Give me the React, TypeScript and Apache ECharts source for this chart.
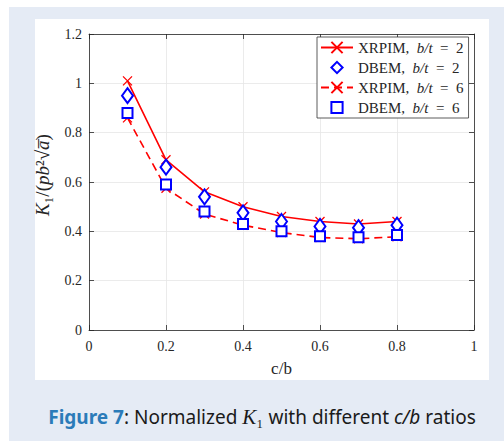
import React, { useEffect, useRef } from 'react';
import * as echarts from 'echarts';

const xValues = [0.1, 0.2, 0.3, 0.4, 0.5, 0.6, 0.7, 0.8];
const xrpim2 = [1.01, 0.69, 0.56, 0.5, 0.46, 0.44, 0.43, 0.44];
const dbem2 = [0.95, 0.66, 0.54, 0.475, 0.44, 0.42, 0.415, 0.425];
const xrpim6 = [0.86, 0.575, 0.47, 0.425, 0.395, 0.375, 0.37, 0.378];
const dbem6 = [0.88, 0.59, 0.48, 0.43, 0.4, 0.38, 0.376, 0.385];
const seriesNames = ['XRPIM, b/t = 2', 'DBEM, b/t = 2', 'XRPIM, b/t = 6', 'DBEM, b/t = 6'];
const legendRich = [
  '{n|XRPIM,  }{i|b/t}{n|  =  2}',
  '{n|DBEM,  }{i|b/t}{n|  =  2}',
  '{n|XRPIM,  }{i|b/t}{n|  =  6}',
  '{n|DBEM,  }{i|b/t}{n|  =  6}',
];

const SERIF = 'Liberation Serif';
const SANS = 'Noto Sans';
const AXIS = '#262626';
const RED = '#ff0000';
const BLUE = '#0000ff';
const CROSS = 'path://M0,0L10,10M10,0L0,10';

const pairs = (ys: number[]) => xValues.map((x, i) => [x, ys[i]]);

export default function App() {
  const ref = useRef<HTMLDivElement>(null);
  useEffect(() => {
    if (!ref.current) return;
    const chart = echarts.init(ref.current, undefined, { renderer: 'svg' });
    const axisCommon = {
      min: 0,
      axisLine: { show: true, onZero: false, lineStyle: { color: AXIS, width: 0.8 } },
      axisTick: { show: true, inside: true, length: 5, lineStyle: { color: AXIS, width: 0.8 } },
    };
    chart.setOption({
      animation: false,
      title: {
        left: 262,
        top: 406,
        padding: 0,
        textAlign: 'center',
        text: '{b|Figure 7}{n|: Normalized }{k|K}{ks|\u2081}{n| with different }{it|c/b}{n| ratios}',
        textStyle: {
          fontFamily: SANS,
          fontSize: 19,
          fontWeight: 'normal',
          color: '#1a1a1a',
          rich: {
            b: { fontFamily: SANS, fontSize: 19, fontWeight: 'bold', color: '#2b7bb9' },
            n: { fontFamily: SANS, fontSize: 19, color: '#1a1a1a' },
            it: { fontFamily: SANS, fontSize: 19, fontStyle: 'italic', color: '#1a1a1a' },
            k: { fontFamily: SERIF, fontSize: 21, fontStyle: 'italic', color: '#1a1a1a' },
            ks: { fontFamily: SERIF, fontSize: 21, color: '#1a1a1a' },
          },
        },
      },
      grid: { left: 89, right: 30, top: 34, height: 296 },
      xAxis: [
        {
          ...axisCommon,
          type: 'value',
          max: 1,
          interval: 0.2,
          position: 'bottom',
          axisLabel: { color: AXIS, fontFamily: SERIF, fontSize: 14, margin: 9 },
          splitLine: { show: true, lineStyle: { color: '#e6e6e6', width: 0.8 } },
          name: 'c/b',
          nameLocation: 'middle',
          nameGap: 30,
          nameTextStyle: { color: AXIS, fontFamily: SERIF, fontSize: 17 },
        },
        {
          ...axisCommon,
          type: 'value',
          max: 1,
          interval: 0.2,
          position: 'top',
          axisLabel: { show: false },
          splitLine: { show: false },
        },
      ],
      yAxis: [
        {
          ...axisCommon,
          type: 'value',
          max: 1.2,
          interval: 0.2,
          position: 'left',
          axisLabel: { color: AXIS, fontFamily: SERIF, fontSize: 14, margin: 7 },
          splitLine: { show: true, lineStyle: { color: '#e6e6e6', width: 0.8 } },
          name: '{i|K}{n|\u2081/(}{i|pb}{n|\u00b2\u221a}{i|a\u0305}{n|)}',
          nameLocation: 'middle',
          nameRotate: 90,
          nameGap: 37,
          nameTextStyle: {
            color: AXIS,
            fontFamily: SERIF,
            fontSize: 19,
            padding: [0, 0, 0, 14],
            rich: {
              n: { fontFamily: SERIF, fontSize: 19, color: AXIS },
              i: { fontFamily: SERIF, fontSize: 19, fontStyle: 'italic', color: AXIS },
            },
          },
        },
        {
          ...axisCommon,
          type: 'value',
          max: 1.2,
          interval: 0.2,
          position: 'right',
          axisLabel: { show: false },
          splitLine: { show: false },
        },
      ],
      legend: {
        orient: 'vertical',
        left: 317,
        top: 37,
        padding: [3, 5, 3, 3],
        itemWidth: 32,
        itemHeight: 14,
        itemGap: 5,
        backgroundColor: '#ffffff',
        borderColor: '#333333',
        borderWidth: 0.8,
        data: [
          { name: seriesNames[0] },
          { name: seriesNames[1], lineStyle: { width: 0, opacity: 0 } },
          { name: seriesNames[2] },
          { name: seriesNames[3], lineStyle: { width: 0, opacity: 0 } },
        ],
        formatter: (name: string) => legendRich[seriesNames.indexOf(name)],
        textStyle: {
          color: AXIS,
          fontFamily: SERIF,
          fontSize: 15,
          rich: {
            n: { fontFamily: SERIF, fontSize: 15, color: AXIS },
            i: { fontFamily: SERIF, fontSize: 15, fontStyle: 'italic', color: AXIS },
          },
        },
      },
      series: [
        {
          name: seriesNames[0],
          type: 'line',
          data: pairs(xrpim2),
          symbol: CROSS,
          symbolSize: 9,
          showAllSymbol: true,
          lineStyle: { color: RED, width: 1.6 },
          itemStyle: { color: RED, borderColor: RED, borderWidth: 1.3 },
          z: 3,
        },
        {
          name: seriesNames[1],
          type: 'line',
          data: pairs(dbem2),
          symbol: 'emptyDiamond',
          symbolSize: [11, 15],
          showAllSymbol: true,
          lineStyle: { width: 0, opacity: 0 },
          itemStyle: { color: BLUE, borderColor: BLUE, borderWidth: 1.6 },
          z: 4,
        },
        {
          name: seriesNames[2],
          type: 'line',
          data: pairs(xrpim6),
          symbol: CROSS,
          symbolSize: 9,
          showAllSymbol: true,
          lineStyle: { color: RED, width: 1.6, type: [8, 5] },
          itemStyle: { color: RED, borderColor: RED, borderWidth: 1.3 },
          z: 3,
        },
        {
          name: seriesNames[3],
          type: 'line',
          data: pairs(dbem6),
          symbol: 'emptyRect',
          symbolSize: 10,
          showAllSymbol: true,
          lineStyle: { width: 0, opacity: 0 },
          itemStyle: { color: BLUE, borderColor: BLUE, borderWidth: 1.6 },
          z: 4,
        },
      ],
    });
    return () => chart.dispose();
  }, []);

  return (
    <div style={{ position: 'fixed', left: 0, top: 0, width: 504, height: 441, background: '#ffffff' }}>
      <div style={{ position: 'absolute', left: 9, top: 7, width: 495, height: 434, background: '#e5ebf5' }} />
      <div style={{ position: 'absolute', left: 35, top: 19, width: 454, height: 361, background: '#ffffff' }} />
      <div ref={ref} style={{ position: 'absolute', left: 0, top: 0, width: 504, height: 441 }} />
    </div>
  );
}
